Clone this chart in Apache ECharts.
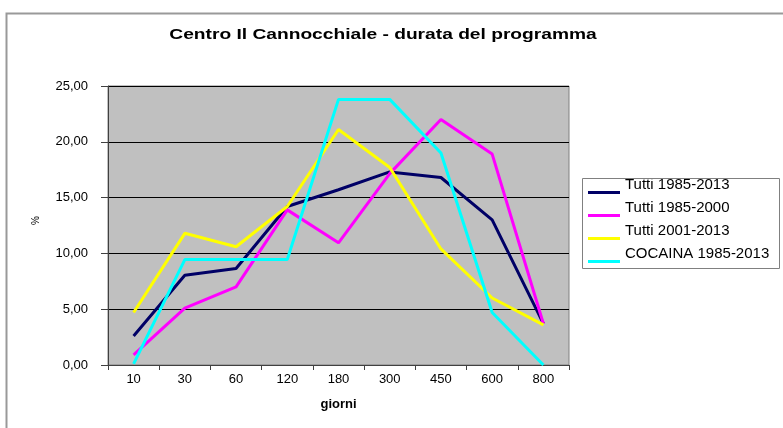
<!DOCTYPE html>
<html><head><meta charset="utf-8">
<script src="https://cdn.jsdelivr.net/npm/echarts@6/dist/echarts.min.js"></script>
<style>html,body{margin:0;padding:0;background:#fff}#c{width:783px;height:428px}</style>
</head><body><div id="c"></div>
<script>
const categories = ['10','30','60','120','180','300','450','600','800'];
const tutti8513 = [2.6, 8.05, 8.65, 14.2, 15.7, 17.3, 16.8, 13.0, 3.7];
const tutti8500 = [0.9, 5.1, 7.0, 13.9, 10.95, 17.15, 22.0, 18.9, 3.7];
const tutti0113 = [4.7, 11.8, 10.6, 14.2, 21.1, 17.7, 10.4, 6.0, 3.6];
const cocaina8513 = [0.1, 9.45, 9.45, 9.45, 23.8, 23.8, 19.0, 4.7, 0.0];
const seriesNames = ['Tutti 1985-2013','Tutti 1985-2000','Tutti 2001-2013','COCAINA 1985-2013'];
const colors = ['#000066','#ff00ff','#ffff00','#00ffff'];
const values = [tutti8513, tutti8500, tutti0113, cocaina8513];
const titleText = 'Centro Il Cannocchiale - durata del programma';

const chart = echarts.init(document.getElementById('c'));
const font = 'Liberation Sans, Arial, sans-serif';
const iconPath = 'path://M0,0 L0.01,0 L0.01,0.01 Z M0,15 L32,15 L32,18 L0,18 Z';
chart.setOption({
  animation: false,
  textStyle: {fontFamily: font},
  graphic: [
    {type:'rect', shape:{x:6.5,y:13.5,width:800,height:500}, style:{fill:null, stroke:'#999999', lineWidth:2}},
    {type:'rect', shape:{x:582.5,y:178.5,width:197,height:90}, style:{fill:null, stroke:'#808080', lineWidth:1}, z:10},
    {type:'text', x:383, y:35, scaleX:1.37, scaleY:1,
      style:{text:titleText, font:'bold 14px Liberation Sans, Arial, sans-serif', fill:'#000', textAlign:'center', textVerticalAlign:'middle'}}
  ],
  legend: {orient:'vertical', left:588, top:176, itemGap:5, itemWidth:32, itemHeight:18,
    padding:0,
    textStyle:{fontSize:15, color:'#000', fontFamily:font},
    data: seriesNames.map(n=>({name:n, icon:iconPath}))},
  grid: {left:108, right:214, top:86, bottom:63, show:true, backgroundColor:'#c0c0c0', borderColor:'#808080', borderWidth:1},
  xAxis: {type:'category', data:categories, boundaryGap:true,
    name:'giorni', nameLocation:'middle', nameGap:33,
    nameTextStyle:{fontSize:13, fontWeight:'bold', color:'#000'},
    axisLine:{lineStyle:{color:'#404040', width:1}},
    axisTick:{show:true, length:5, lineStyle:{color:'#404040'}},
    axisLabel:{fontSize:13, color:'#000', margin:8}},
  yAxis: {type:'value', min:0, max:25, interval:5,
    name:'%', nameLocation:'middle', nameGap:67, nameTextStyle:{fontSize:10, color:'#000', padding:[0,0,0,10]},
    axisLine:{show:true, lineStyle:{color:'#404040'}},
    axisTick:{show:true, length:7, lineStyle:{color:'#404040'}},
    splitLine:{lineStyle:{color:'#000', width:1}},
    axisLabel:{fontSize:13, color:'#000', margin:20, formatter:v=>v.toFixed(2).replace('.',',')}},
  series: seriesNames.map((n,i)=>({name:n, type:'line', data:values[i], symbol:'none',
    lineStyle:{color:colors[i], width:3}, itemStyle:{color:colors[i]}}))
});
</script></body></html>
